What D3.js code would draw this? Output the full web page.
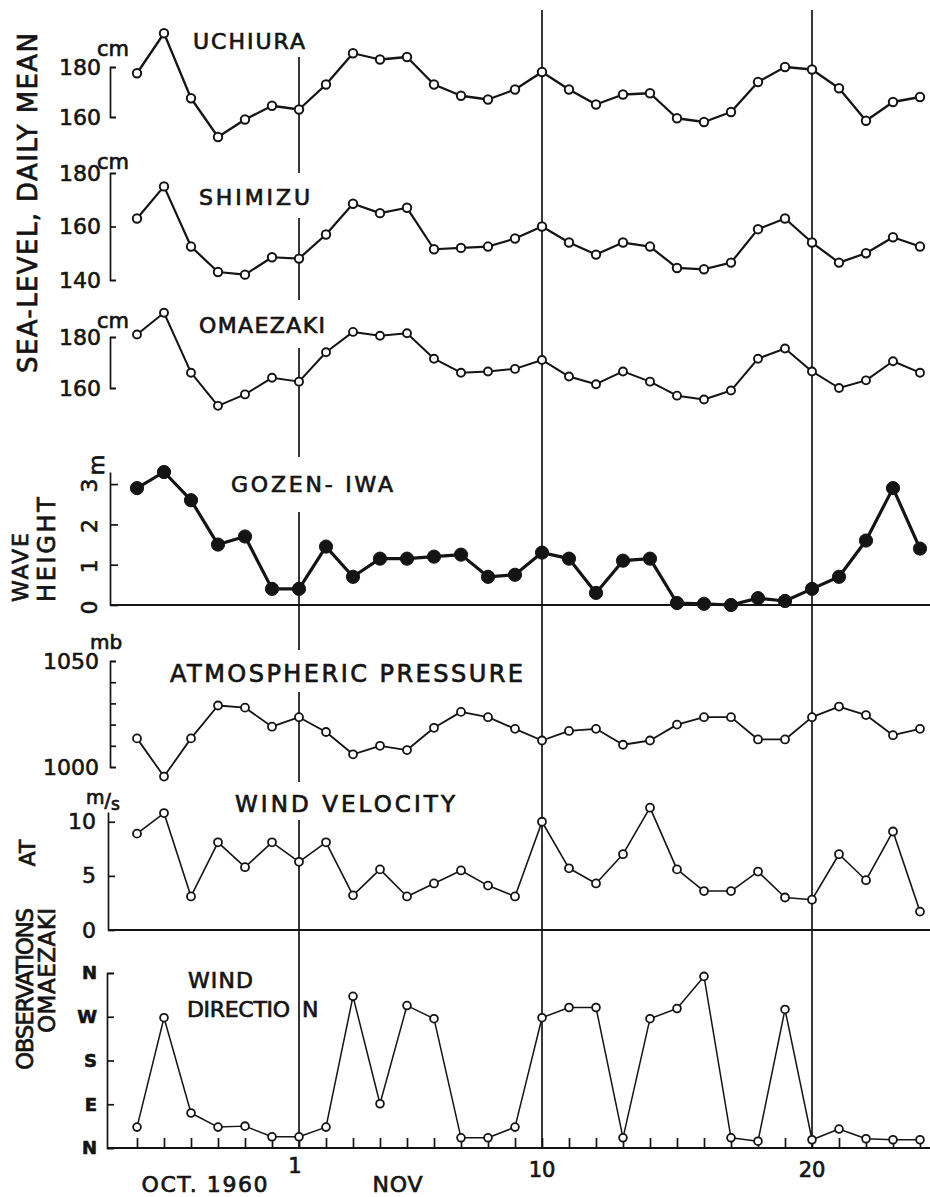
<!DOCTYPE html>
<html>
<head>
<meta charset="utf-8">
<title>Sea level, wave height and weather, Oct.-Nov. 1960</title>
<style>
  body { margin: 0; background: #fff; }
  svg  { display: block; font-family: "DejaVu Sans", sans-serif; }
</style>
</head>
<body>
<script src="https://cdn.jsdelivr.net/npm/d3@7"></script>
<script>

// one value a day, Oct 26 - Nov 24 1960
var days = ["1960-10-26","1960-10-27","1960-10-28","1960-10-29","1960-10-30","1960-10-31",
  "1960-11-01","1960-11-02","1960-11-03","1960-11-04","1960-11-05","1960-11-06","1960-11-07",
  "1960-11-08","1960-11-09","1960-11-10","1960-11-11","1960-11-12","1960-11-13","1960-11-14",
  "1960-11-15","1960-11-16","1960-11-17","1960-11-18","1960-11-19","1960-11-20","1960-11-21",
  "1960-11-22","1960-11-23","1960-11-24"];

// sea level, daily mean (cm)
var uchiura  = [177.5,193.5,167.5,152,159,164.5,163,173,185.5,183,184,173,168.5,167,171,178,171,165,169,169.5,159.5,158,162,174,180,179,171.5,158.5,166,168];
var shimizu  = [163,175,152.5,143,142,148.5,148,157,168.5,165,167,151.5,152,152.5,155.5,160,154,149.5,154,152.5,144.5,144,146.5,159,163,154,146.5,150,156,152.5];
var omaezaki = [181,189.5,166,153,157.5,164,162.5,174,182,180.5,181.5,171.5,166,166.5,167.5,171,164.5,161.5,166.5,162.5,157,155.5,159,171.5,175.5,166.5,160,163,170.5,166];
// wave height at Gozen-iwa (m)
var waveHeight = [2.9,3.3,2.6,1.5,1.7,0.4,0.4,1.45,0.7,1.15,1.15,1.2,1.25,0.7,0.75,1.3,1.15,0.3,1.1,1.15,0.05,0.03,0,0.17,0.1,0.4,0.7,1.6,2.9,1.4];
// observations at Omaezaki
var pressure = [1013.5,995.5,1013.5,1029,1028,1019,1023.5,1016.5,1006,1010,1008,1018.5,1026,1023.5,1018,1012.5,1017,1018,1010.5,1012.5,1020,1023.5,1023.5,1013,1013,1023.5,1028.5,1024.5,1015,1018];
var windVelocity = [8.9,10.8,3.1,8.1,5.8,8.1,6.3,8.1,3.2,5.6,3.1,4.3,5.5,4.1,3.1,10,5.7,4.3,7,11.3,5.6,3.6,3.6,5.4,3,2.8,7,4.6,9.1,1.7];
// wind direction in degrees (0 = N, 90 = E, 180 = S, 270 = W)
var windDirection = [43,268,72,43,45,23,23,43,312,91,293,266,21,21,43,268,289,289,21,266,287,353,21,14,285,17,39,19,17,17];

var markedDays = ["1960-11-01","1960-11-10","1960-11-20"];
var markedLabels = ["1","10","20"];
var compass = ["N","E","S","W","N"];
var compassDeg = [0,90,180,270,360];
var pressureTicks = [1000,1010,1020,1030,1040,1050];

var W = 930, H = 1197, ink = "#141414";
var axisX = 110, rightEdge = 930, bottomY = 1148;

var svg = d3.select("body").append("svg")
    .attr("width", W).attr("height", H);

var parse = d3.utcParse("%Y-%m-%d");
var dates = days.map(parse);

var x = d3.scaleUtc()
    .domain(d3.extent(dates))
    .range([137, 920]);

// one scale per panel
var yUchiura  = d3.scaleLinear().domain([160, 180]).range([117, 67]);
var yShimizu  = d3.scaleLinear().domain([140, 180]).range([280, 173]);
var yOmaezaki = d3.scaleLinear().domain([160, 180]).range([388, 337]);
var yWave     = d3.scaleLinear().domain([0, 3.3]).range([605, 472]);
var yPress    = d3.scaleLinear().domain([1000, 1050]).range([767, 661]);
var yWind     = d3.scaleLinear().domain([0, 10.9]).range([930, 812]);
var yDir      = d3.scaleLinear().domain([0, 360]).range([bottomY, 973]);

//----- vertical day lines (Nov 1 is broken where the titles are)
var gaps = [[0, 57], [173, 218], [300, 348], [457, 512], [650, 692], [782, 820]];
markedDays.forEach(function(d, i) {
  var xd = x(parse(d));
  var segs = [];
  if (i == 0) {
    for (var k = 0; k < gaps.length; k++) {
      var y0 = gaps[k][1], y1 = k + 1 < gaps.length ? gaps[k + 1][0] : bottomY;
      segs.push([y0, y1]);
    }
  } else {
    segs.push([10, bottomY]);
  }
  segs.forEach(function(s) {
    svg.append("line")
      .attr("x1", xd).attr("x2", xd)
      .attr("y1", s[0]).attr("y2", s[1])
      .attr("stroke", ink).attr("stroke-width", 1.7);
  });
});

//----- axes
function styleAxis(g, size) {
  g.attr("font-family", null).attr("font-size", null);
  g.selectAll(".domain, .tick line").attr("stroke", ink).attr("stroke-width", 1.7);
  g.selectAll(".tick text").attr("fill", ink).attr("font-size", size || 22)
    .attr("stroke", ink).attr("stroke-width", 0.6);
  return g;
}

function bracket(y, ticks, fmt, xPos, pad) {
  var g = svg.append("g").attr("transform", "translate(" + xPos + ",0)")
    .call(d3.axisLeft(y).tickValues(ticks).tickFormat(fmt)
      .tickSize(-6).tickPadding(pad || 9));
  return styleAxis(g);
}

bracket(yUchiura, [160, 180], d3.format("d"), axisX);
bracket(yShimizu, [140, 160, 180], d3.format("d"), axisX);
bracket(yOmaezaki, [160, 180], d3.format("d"), axisX);

// wave height: rotated tick labels like the title
var gw = svg.append("g").attr("transform", "translate(" + axisX + ",0)")
  .call(d3.axisLeft(yWave).tickValues([0, 1, 2, 3]).tickFormat(d3.format("d"))
    .tickSize(-8).tickSizeOuter(0));
styleAxis(gw, 22);
gw.selectAll(".tick text")
  .attr("x", null).attr("dy", null)
  .attr("text-anchor", "middle")
  .attr("transform", function(d) { return "translate(-13," + (d == 0 ? 2 : 1) + ") rotate(-90)"; });

bracket(yPress, pressureTicks, function(d) { return d == 1000 || d == 1050 ? d : ""; }, axisX, 11);

var gv = svg.append("g").attr("transform", "translate(" + (axisX - 2) + ",0)")
  .call(d3.axisLeft(yWind).tickValues([0, 5, 10]).tickFormat(d3.format("d"))
    .tickSize(-7).tickSizeOuter(0).tickPadding(12));
styleAxis(gv, 22);

var gd = svg.append("g").attr("transform", "translate(" + (axisX - 3) + ",0)")
  .call(d3.axisLeft(yDir).tickValues(compassDeg)
    .tickFormat(function(d, i) { return compass[i]; })
    .tickSize(-7).tickPadding(10));
styleAxis(gd, 18);
gd.selectAll(".tick text").attr("font-weight", "bold");

// baselines of wave height, wind velocity and the date axis
[[yWave(0), axisX], [yWind(0), axisX - 2], [bottomY, axisX - 3]].forEach(function(b) {
  svg.append("line")
    .attr("x1", b[1]).attr("x2", rightEdge)
    .attr("y1", b[0]).attr("y2", b[0])
    .attr("stroke", ink).attr("stroke-width", 1.9);
});

var gx = svg.append("g").attr("transform", "translate(0," + bottomY + ")")
  .call(d3.axisBottom(x).ticks(d3.utcDay.every(1)).tickFormat("")
    .tickSize(-10).tickSizeOuter(0));
styleAxis(gx);
gx.select(".domain").remove();

//----- series
function series(values, y, o) {
  var pts = values.map(function(v, i) { return [x(dates[i]), y(v)]; });
  var line = d3.line();
  svg.append("path")
    .attr("d", line(pts))
    .attr("fill", "none").attr("stroke", ink)
    .attr("stroke-width", o.lw).attr("stroke-linejoin", "round");
  svg.append("g").selectAll("circle")
    .data(pts).enter().append("circle")
    .attr("cx", function(d) { return d[0]; })
    .attr("cy", function(d) { return d[1]; })
    .attr("r", o.r)
    .attr("fill", o.filled ? ink : "#fff")
    .attr("stroke", ink).attr("stroke-width", o.filled ? 1 : o.cw);
}

series(uchiura, yUchiura, {lw: 2.3, r: 4.2, cw: 2});
series(shimizu, yShimizu, {lw: 2.2, r: 4.2, cw: 2});
series(omaezaki, yOmaezaki, {lw: 2, r: 4, cw: 1.9});
series(waveHeight, yWave, {lw: 3.2, r: 6.6, filled: true});
series(pressure, yPress, {lw: 1.8, r: 4, cw: 1.8});
series(windVelocity, yWind, {lw: 1.6, r: 4, cw: 1.8});
series(windDirection, yDir, {lw: 1.5, r: 3.9, cw: 1.8});

//----- texts
function label(t, px, py, size, width, anchor, rot) {
  var el = svg.append("text")
    .attr("transform", "translate(" + px + "," + py + ")" + (rot ? " rotate(-90)" : ""))
    .attr("font-size", size)
    .attr("text-anchor", anchor || "start")
    .attr("fill", ink)
    .attr("stroke", ink).attr("stroke-width", 0.7)
    .text(t);
  if (width) el.attr("textLength", width);
  return el;
}

// panel titles
label("UCHIURA", 193, 49, 22, 112);
label("SHIMIZU", 199, 205, 22, 111);
label("OMAEZAKI", 199, 333, 22, 126);
label("GOZEN- IWA", 231, 492, 22, 162);
label("ATMOSPHERIC  PRESSURE", 170, 682, 24, 353);
label("WIND  VELOCITY", 235, 812, 23, 220);
label("WIND", 188, 988, 22, 65);
label("DIRECTIO", 187, 1017, 22, 103);
label("N", 302, 1017, 22, 23);

// units
label("cm", 97, 56, 21);
label("cm", 97, 169, 21);
label("cm", 97, 328, 21);
label("m", 104, 465, 21, null, "middle", true);
label("mb", 90, 649, 20);
var ms = label("m", 86, 804, 19);
ms.append("tspan").attr("dy", 3).text("/");
ms.append("tspan").attr("dy", 3).attr("font-size", 17).text("s");

// rotated axis titles
label("SEA-LEVEL, DAILY MEAN", 37, 203, 26, 340, "middle", true);
label("WAVE", 28, 602, 22, 69, "start", true);
label("HEIGHT", 55, 602, 24, 105, "start", true);
label("AT", 35, 853, 22, 27, "middle", true);
label("OBSERVATIONS", 33, 908, 23, 162, "end", true);
label("OMAEZAKI", 55, 908, 23, 125, "end", true);

// date labels
markedDays.forEach(function(d, i) {
  label(markedLabels[i], x(parse(d)) - (i == 0 ? 4 : 0), i == 0 ? 1173 : 1177, 21, null, "middle");
});
label("OCT. 1960", (x(parse("1960-10-28")) + x(parse("1960-10-29"))) / 2, 1192, 22, 126, "middle");
label("NOV", (x(parse("1960-11-04")) + x(parse("1960-11-05"))) / 2 + 4, 1192, 22, 50, "middle");

</script>
</body>
</html>
